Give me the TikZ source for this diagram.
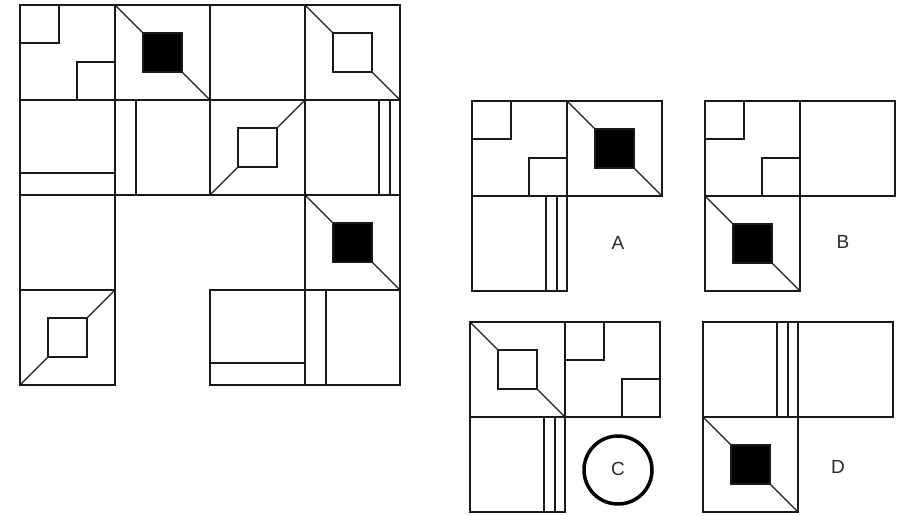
\documentclass[tikz,border=0pt]{standalone}
\usepackage{fontspec}
\setmainfont{Liberation Sans}
\definecolor{ink}{HTML}{1A1A1A}
\definecolor{lbl}{HTML}{2A2A2A}
\tikzset{
  cellline/.style={draw=ink, line width=1.8pt},
  diagline/.style={draw=ink, line width=1.2pt},
  lettertext/.style={text=lbl, font=\fontsize{19}{22}\selectfont, inner sep=0pt},
  answerring/.style={draw=black, line width=3.5pt}
}
% cell outline
\newcommand{\pzcell}[3]{\draw[cellline] (#1,#2) rectangle ++(#3,#3);}
% two small squares (top-left and bottom-right)
\newcommand{\pztwosq}[3]{%
  \draw[cellline] (#1,#2) rectangle ++(#3,#3);
  \draw[cellline] (#1,{round(#2+0.4*#3)}) -- ({round(#1+0.41*#3)},{round(#2+0.4*#3)}) -- ({round(#1+0.41*#3)},#2);
  \draw[cellline] ({round(#1+0.6*#3)},{#2+#3}) -- ({round(#1+0.6*#3)},{round(#2+0.6*#3)}) -- ({#1+#3},{round(#2+0.6*#3)});}
% centred square on TL-BR diagonal; #4 = fill colour
\newcommand{\pzsqTL}[4]{%
  \draw[cellline] (#1,#2) rectangle ++(#3,#3);
  \draw[diagline] (#1,#2) -- ({#1+#3},{#2+#3});
  \fill[#4] ({round(#1+0.29*#3)},{round(#2+0.29*#3)}) rectangle ({round(#1+0.71*#3)},{round(#2+0.71*#3)});
  \draw[cellline] ({round(#1+0.29*#3)},{round(#2+0.29*#3)}) rectangle ({round(#1+0.71*#3)},{round(#2+0.71*#3)});}
% centred square on BL-TR diagonal
\newcommand{\pzsqBL}[4]{%
  \draw[cellline] (#1,#2) rectangle ++(#3,#3);
  \draw[diagline] (#1,{#2+#3}) -- ({#1+#3},#2);
  \fill[#4] ({round(#1+0.29*#3)},{round(#2+0.29*#3)}) rectangle ({round(#1+0.71*#3)},{round(#2+0.71*#3)});
  \draw[cellline] ({round(#1+0.29*#3)},{round(#2+0.29*#3)}) rectangle ({round(#1+0.71*#3)},{round(#2+0.71*#3)});}
% horizontal strip at bottom
\newcommand{\pzhstrip}[3]{%
  \draw[cellline] (#1,#2) rectangle ++(#3,#3);
  \draw[cellline] (#1,{round(#2+0.765*#3)}) -- ({#1+#3},{round(#2+0.765*#3)});}
% vertical strip at left
\newcommand{\pzvstrip}[3]{%
  \draw[cellline] (#1,#2) rectangle ++(#3,#3);
  \draw[cellline] ({round(#1+0.22*#3)},#2) -- ({round(#1+0.22*#3)},{#2+#3});}
% two vertical lines near right
\newcommand{\pztwov}[3]{%
  \draw[cellline] (#1,#2) rectangle ++(#3,#3);
  \draw[cellline] ({round(#1+0.78*#3)},#2) -- ({round(#1+0.78*#3)},{#2+#3});
  \draw[cellline] ({round(#1+0.89*#3)},#2) -- ({round(#1+0.89*#3)},{#2+#3});}
\begin{document}
\begin{tikzpicture}[x=1pt,y=-1pt]
\useasboundingbox (0,0) rectangle (903,515);
% ---------- main grid ----------
% row 0
\pztwosq{20}{5}{95}
\pzsqTL{115}{5}{95}{black}
\pzcell{210}{5}{95}
\pzsqTL{305}{5}{95}{white}
% row 1
\pzhstrip{20}{100}{95}
\pzvstrip{115}{100}{95}
\pzsqBL{210}{100}{95}{white}
\pztwov{305}{100}{95}
% row 2
\pzcell{20}{195}{95}
\pzsqTL{305}{195}{95}{black}
% row 3
\pzsqBL{20}{290}{95}{white}
\pzhstrip{210}{290}{95}
\pzvstrip{305}{290}{95}
% ---------- option A ----------
\pztwosq{472}{101}{95}
\pzsqTL{567}{101}{95}{black}
\pztwov{472}{196}{95}
\node[lettertext] (la) at (618,243) {A};
% ---------- option B ----------
\pztwosq{705}{101}{95}
\pzcell{800}{101}{95}
\pzsqTL{705}{196}{95}{black}
\node[lettertext] (lb) at (843,242) {B};
% ---------- option C ----------
\pzsqTL{470}{322}{95}{white}
\pztwosq{565}{322}{95}
\pztwov{470}{417}{95}
\node[lettertext] (lc) at (618,469) {C};
\node[answerring, circle, minimum size=68pt, inner sep=0pt] (ring) at (618,470) {};
% ---------- option D ----------
\pztwov{703}{322}{95}
\pzcell{798}{322}{95}
\pzsqTL{703}{417}{95}{black}
\node[lettertext] (ld) at (838,467) {D};
\end{tikzpicture}
\end{document}
